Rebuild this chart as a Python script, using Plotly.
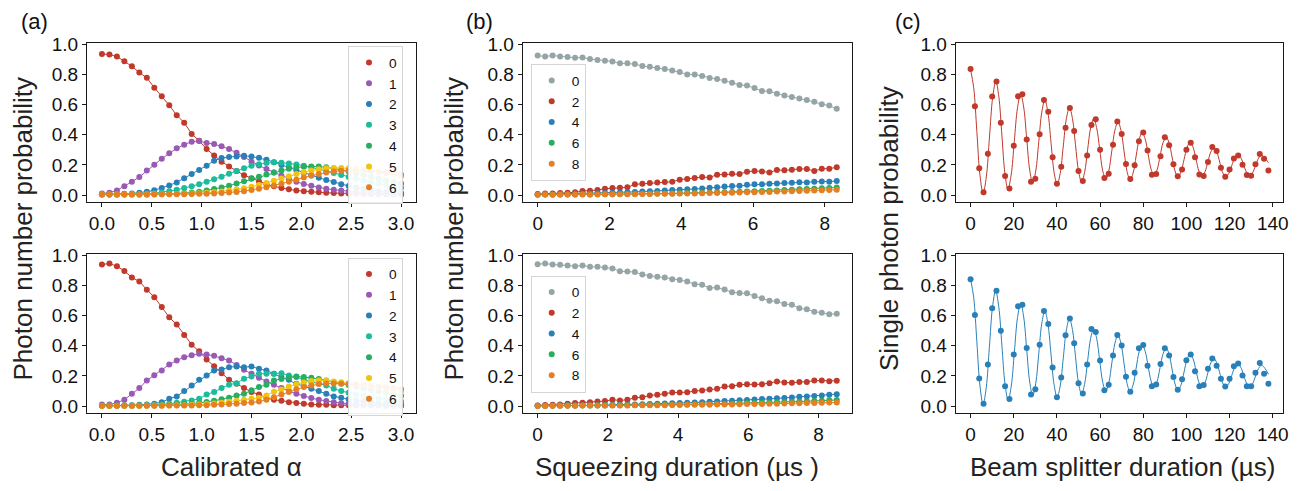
import plotly.graph_objects as go

# ---------------- data ----------------
alpha = [0.0, 0.075, 0.15, 0.225, 0.3, 0.375, 0.45, 0.525, 0.6, 0.675, 0.75, 0.825, 0.9, 0.975,
         1.05, 1.125, 1.2, 1.275, 1.35, 1.425, 1.5, 1.575, 1.65, 1.725, 1.8, 1.875, 1.95, 2.025,
         2.1, 2.175, 2.25, 2.325, 2.4, 2.475, 2.55, 2.625, 2.7, 2.775, 2.85, 2.925, 3.0]

a_top_0 = [0.935, 0.932, 0.918, 0.887, 0.854, 0.812, 0.777, 0.712, 0.655, 0.595, 0.529, 0.480, 0.405, 0.360,
           0.305, 0.263, 0.221, 0.190, 0.160, 0.132, 0.112, 0.090, 0.072, 0.058, 0.046, 0.038, 0.030, 0.025,
           0.022, 0.018, 0.015, 0.013, 0.011, 0.010, 0.008, 0.007, 0.006, 0.005, 0.004, 0.004, 0.003]
a_top_1 = [0.011, 0.016, 0.031, 0.058, 0.088, 0.119, 0.162, 0.201, 0.241, 0.277, 0.310, 0.334, 0.354, 0.358,
           0.345, 0.338, 0.324, 0.305, 0.280, 0.252, 0.220, 0.196, 0.172, 0.150, 0.128, 0.105, 0.088, 0.073,
           0.062, 0.050, 0.041, 0.035, 0.030, 0.024, 0.019, 0.015, 0.012, 0.009, 0.007, 0.005, 0.004]
a_top_2 = [0.005, 0.005, 0.006, 0.008, 0.011, 0.016, 0.022, 0.032, 0.046, 0.064, 0.084, 0.112, 0.140, 0.166,
           0.195, 0.228, 0.245, 0.252, 0.256, 0.260, 0.256, 0.247, 0.234, 0.218, 0.200, 0.182, 0.164, 0.146,
           0.130, 0.115, 0.100, 0.086, 0.072, 0.060, 0.050, 0.041, 0.033, 0.027, 0.021, 0.017, 0.013]
a_top_3 = [0.004, 0.004, 0.004, 0.005, 0.005, 0.006, 0.008, 0.012, 0.018, 0.026, 0.035, 0.046, 0.058, 0.072,
           0.088, 0.104, 0.122, 0.142, 0.160, 0.178, 0.195, 0.205, 0.212, 0.217, 0.215, 0.210, 0.203, 0.195,
           0.185, 0.174, 0.160, 0.147, 0.133, 0.120, 0.108, 0.096, 0.085, 0.075, 0.065, 0.056, 0.048]
a_top_4 = [0.003, 0.003, 0.003, 0.003, 0.003, 0.004, 0.004, 0.005, 0.006, 0.008, 0.010, 0.013, 0.017, 0.022,
           0.030, 0.040, 0.050, 0.062, 0.076, 0.092, 0.108, 0.122, 0.136, 0.150, 0.163, 0.174, 0.183, 0.188,
           0.190, 0.189, 0.184, 0.176, 0.166, 0.156, 0.145, 0.133, 0.121, 0.109, 0.097, 0.086, 0.076]
a_top_5 = [0.004, 0.004, 0.004, 0.004, 0.004, 0.004, 0.004, 0.005, 0.005, 0.006, 0.007, 0.008, 0.010, 0.012,
           0.015, 0.019, 0.024, 0.030, 0.037, 0.045, 0.055, 0.066, 0.080, 0.095, 0.110, 0.125, 0.140, 0.152,
           0.163, 0.171, 0.177, 0.180, 0.180, 0.178, 0.174, 0.168, 0.161, 0.153, 0.144, 0.135, 0.125]
a_top_6 = [0.004, 0.004, 0.004, 0.004, 0.004, 0.004, 0.004, 0.004, 0.005, 0.005, 0.005, 0.006, 0.007, 0.008,
           0.009, 0.011, 0.014, 0.017, 0.021, 0.026, 0.033, 0.042, 0.052, 0.063, 0.075, 0.088, 0.102, 0.116,
           0.129, 0.140, 0.150, 0.157, 0.161, 0.163, 0.163, 0.161, 0.158, 0.154, 0.149, 0.143, 0.137]

a_bot_0 = [0.938, 0.945, 0.927, 0.896, 0.852, 0.826, 0.771, 0.722, 0.656, 0.588, 0.540, 0.471, 0.407, 0.363,
           0.308, 0.264, 0.218, 0.174, 0.148, 0.119, 0.093, 0.077, 0.053, 0.042, 0.035, 0.026, 0.020, 0.015,
           0.011, 0.009, 0.008, 0.006, 0.006, 0.005, 0.004, 0.004, 0.003, 0.003, 0.002, 0.002, 0.002]
a_bot_1 = [0.010, 0.010, 0.022, 0.042, 0.081, 0.119, 0.170, 0.205, 0.236, 0.275, 0.302, 0.324, 0.337, 0.346,
           0.341, 0.333, 0.317, 0.302, 0.273, 0.240, 0.214, 0.187, 0.163, 0.141, 0.119, 0.099, 0.081, 0.066,
           0.053, 0.042, 0.033, 0.025, 0.019, 0.015, 0.012, 0.009, 0.007, 0.005, 0.004, 0.003, 0.003]
a_bot_2 = [0.003, 0.003, 0.004, 0.005, 0.006, 0.008, 0.010, 0.016, 0.026, 0.048, 0.064, 0.099, 0.137, 0.174,
           0.203, 0.236, 0.242, 0.258, 0.262, 0.258, 0.262, 0.247, 0.236, 0.214, 0.192, 0.174, 0.148, 0.132,
           0.115, 0.099, 0.081, 0.064, 0.055, 0.045, 0.037, 0.030, 0.024, 0.019, 0.015, 0.012, 0.009]
a_bot_3 = [0.002, 0.002, 0.002, 0.003, 0.003, 0.004, 0.005, 0.007, 0.010, 0.015, 0.022, 0.029, 0.037, 0.048,
           0.077, 0.093, 0.119, 0.141, 0.152, 0.181, 0.196, 0.214, 0.214, 0.214, 0.218, 0.203, 0.192, 0.174,
           0.159, 0.148, 0.137, 0.115, 0.099, 0.088, 0.077, 0.067, 0.058, 0.050, 0.043, 0.036, 0.030]
a_bot_4 = [0.002, 0.002, 0.002, 0.002, 0.002, 0.003, 0.003, 0.004, 0.005, 0.007, 0.009, 0.012, 0.016, 0.021,
           0.027, 0.035, 0.045, 0.055, 0.070, 0.081, 0.104, 0.126, 0.141, 0.170, 0.180, 0.190, 0.196, 0.192,
           0.187, 0.180, 0.170, 0.160, 0.150, 0.139, 0.128, 0.117, 0.106, 0.096, 0.086, 0.077, 0.069]
a_bot_5 = [0.002, 0.002, 0.002, 0.002, 0.002, 0.002, 0.003, 0.003, 0.003, 0.004, 0.005, 0.006, 0.008, 0.010,
           0.013, 0.017, 0.022, 0.028, 0.035, 0.042, 0.048, 0.055, 0.070, 0.095, 0.110, 0.130, 0.145, 0.157,
           0.166, 0.170, 0.168, 0.163, 0.158, 0.152, 0.146, 0.139, 0.132, 0.124, 0.116, 0.108, 0.100]
a_bot_6 = [0.002, 0.002, 0.002, 0.002, 0.002, 0.002, 0.002, 0.002, 0.002, 0.003, 0.003, 0.003, 0.004, 0.005,
           0.006, 0.008, 0.010, 0.013, 0.016, 0.020, 0.024, 0.030, 0.042, 0.059, 0.077, 0.093, 0.112, 0.126,
           0.137, 0.146, 0.150, 0.150, 0.148, 0.146, 0.143, 0.139, 0.135, 0.130, 0.125, 0.119, 0.113]

t_sq_top = [0.0, 0.208, 0.417, 0.625, 0.833, 1.042, 1.25, 1.458, 1.667, 1.875, 2.083, 2.292, 2.5, 2.708,
            2.917, 3.125, 3.333, 3.542, 3.75, 3.958, 4.167, 4.375, 4.583, 4.792, 5.0, 5.208, 5.417, 5.625,
            5.833, 6.042, 6.25, 6.458, 6.667, 6.875, 7.083, 7.292, 7.5, 7.708, 7.917, 8.125, 8.333]
b_top_0 = [0.925, 0.918, 0.925, 0.918, 0.915, 0.910, 0.912, 0.902, 0.896, 0.890, 0.886, 0.874, 0.873, 0.868,
           0.856, 0.850, 0.843, 0.835, 0.826, 0.815, 0.800, 0.799, 0.790, 0.776, 0.770, 0.758, 0.745, 0.730,
           0.727, 0.710, 0.690, 0.688, 0.672, 0.660, 0.650, 0.640, 0.630, 0.618, 0.602, 0.593, 0.572]
b_top_2 = [0.007, 0.011, 0.011, 0.013, 0.015, 0.018, 0.027, 0.029, 0.033, 0.042, 0.046, 0.049, 0.051, 0.071,
           0.075, 0.080, 0.084, 0.086, 0.088, 0.102, 0.106, 0.113, 0.119, 0.117, 0.135, 0.137, 0.142, 0.139,
           0.155, 0.159, 0.157, 0.150, 0.166, 0.164, 0.168, 0.173, 0.173, 0.159, 0.175, 0.175, 0.184]
b_top_4 = [0.004, 0.005, 0.005, 0.006, 0.007, 0.008, 0.009, 0.010, 0.012, 0.013, 0.015, 0.017, 0.019, 0.021,
           0.023, 0.025, 0.027, 0.030, 0.033, 0.036, 0.038, 0.040, 0.044, 0.048, 0.052, 0.056, 0.060, 0.062,
           0.068, 0.072, 0.071, 0.075, 0.077, 0.080, 0.082, 0.085, 0.084, 0.088, 0.090, 0.089, 0.094]
b_top_6 = [0.003, 0.003, 0.004, 0.003, 0.004, 0.004, 0.005, 0.004, 0.005, 0.006, 0.006, 0.007, 0.007, 0.008,
           0.008, 0.009, 0.010, 0.011, 0.011, 0.012, 0.014, 0.014, 0.016, 0.017, 0.018, 0.019, 0.021, 0.022,
           0.024, 0.026, 0.027, 0.029, 0.031, 0.033, 0.035, 0.038, 0.040, 0.042, 0.045, 0.046, 0.050]
b_top_8 = [0.002, 0.003, 0.002, 0.003, 0.003, 0.003, 0.004, 0.004, 0.004, 0.005, 0.005, 0.005, 0.006, 0.006,
           0.007, 0.007, 0.008, 0.008, 0.009, 0.010, 0.010, 0.011, 0.012, 0.013, 0.014, 0.014, 0.016, 0.017,
           0.018, 0.019, 0.020, 0.021, 0.023, 0.024, 0.025, 0.027, 0.029, 0.030, 0.032, 0.033, 0.035]

t_sq_bot = [0.0, 0.213, 0.426, 0.639, 0.852, 1.065, 1.278, 1.491, 1.704, 1.917, 2.13, 2.343, 2.556, 2.769,
            2.982, 3.195, 3.408, 3.621, 3.834, 4.047, 4.26, 4.473, 4.686, 4.899, 5.112, 5.325, 5.538, 5.751,
            5.964, 6.177, 6.39, 6.603, 6.816, 7.029, 7.242, 7.455, 7.668, 7.881, 8.094, 8.307, 8.52]
b_bot_0 = [0.940, 0.945, 0.938, 0.936, 0.932, 0.927, 0.932, 0.923, 0.923, 0.918, 0.912, 0.894, 0.892, 0.888,
           0.872, 0.863, 0.857, 0.852, 0.841, 0.835, 0.826, 0.808, 0.804, 0.782, 0.786, 0.773, 0.755, 0.749,
           0.747, 0.729, 0.714, 0.698, 0.694, 0.676, 0.672, 0.648, 0.641, 0.626, 0.619, 0.608, 0.612]
b_bot_2 = [0.004, 0.007, 0.009, 0.011, 0.015, 0.020, 0.022, 0.026, 0.031, 0.033, 0.042, 0.037, 0.042, 0.055,
           0.059, 0.070, 0.075, 0.081, 0.090, 0.090, 0.092, 0.099, 0.103, 0.110, 0.114, 0.130, 0.132, 0.141,
           0.145, 0.143, 0.145, 0.152, 0.163, 0.156, 0.154, 0.160, 0.160, 0.169, 0.169, 0.165, 0.167]
b_bot_4 = [0.002, 0.002, 0.003, 0.003, 0.004, 0.004, 0.005, 0.006, 0.006, 0.007, 0.008, 0.009, 0.010, 0.011,
           0.012, 0.014, 0.015, 0.017, 0.018, 0.020, 0.022, 0.024, 0.026, 0.028, 0.030, 0.033, 0.035, 0.038,
           0.040, 0.043, 0.046, 0.048, 0.051, 0.054, 0.057, 0.061, 0.064, 0.067, 0.070, 0.075, 0.079]
b_bot_6 = [0.002, 0.002, 0.002, 0.003, 0.003, 0.003, 0.003, 0.004, 0.004, 0.004, 0.005, 0.005, 0.006, 0.006,
           0.007, 0.007, 0.008, 0.009, 0.009, 0.010, 0.011, 0.012, 0.013, 0.014, 0.015, 0.016, 0.017, 0.018,
           0.020, 0.021, 0.022, 0.024, 0.025, 0.027, 0.029, 0.030, 0.032, 0.034, 0.036, 0.038, 0.040]
b_bot_8 = [0.001, 0.001, 0.002, 0.002, 0.002, 0.002, 0.003, 0.003, 0.003, 0.003, 0.004, 0.004, 0.004, 0.005,
           0.005, 0.005, 0.006, 0.006, 0.007, 0.007, 0.008, 0.008, 0.009, 0.009, 0.010, 0.011, 0.011, 0.012,
           0.013, 0.014, 0.014, 0.015, 0.016, 0.017, 0.018, 0.019, 0.020, 0.021, 0.022, 0.023, 0.024]

t_bs = [0, 2, 4, 6, 8, 10, 12, 14, 16, 18, 20, 22, 24, 26, 28, 30, 32, 34, 36, 38, 40, 42, 44, 46, 48,
        50, 52, 54, 56, 58, 60, 62, 64, 66, 68, 70, 72, 74, 76, 78, 80, 82, 84, 86, 88, 90, 92, 94, 96, 98,
        100, 102, 104, 106, 108, 110, 112, 114, 116, 118, 120, 122, 124, 126, 128, 130, 132, 134, 136, 138]
c_top = [0.836, 0.588, 0.177, 0.018, 0.274, 0.653, 0.752, 0.480, 0.126, 0.044, 0.327, 0.655, 0.668, 0.369,
         0.088, 0.108, 0.403, 0.630, 0.553, 0.250, 0.075, 0.188, 0.447, 0.577, 0.425, 0.159, 0.093, 0.263,
         0.465, 0.502, 0.301, 0.113, 0.142, 0.334, 0.487, 0.405, 0.206, 0.106, 0.197, 0.356, 0.414, 0.296,
         0.135, 0.139, 0.257, 0.383, 0.330, 0.204, 0.124, 0.170, 0.301, 0.347, 0.250, 0.137, 0.126, 0.219,
         0.319, 0.292, 0.181, 0.122, 0.170, 0.243, 0.263, 0.201, 0.133, 0.128, 0.204, 0.272, 0.241, 0.162]
c_bot = [0.841, 0.604, 0.183, 0.015, 0.275, 0.648, 0.764, 0.500, 0.132, 0.046, 0.341, 0.661, 0.672, 0.385,
         0.077, 0.112, 0.407, 0.630, 0.544, 0.256, 0.059, 0.189, 0.469, 0.581, 0.416, 0.152, 0.084, 0.275,
         0.511, 0.491, 0.302, 0.104, 0.141, 0.335, 0.471, 0.401, 0.194, 0.095, 0.220, 0.383, 0.405, 0.267,
         0.132, 0.143, 0.278, 0.383, 0.335, 0.192, 0.108, 0.178, 0.304, 0.341, 0.231, 0.132, 0.139, 0.247,
         0.315, 0.267, 0.181, 0.130, 0.181, 0.264, 0.282, 0.203, 0.132, 0.132, 0.220, 0.286, 0.214, 0.148]

# fitted curves (extrema and quarter points of each swing)
fit_t_top = [0, 1.45, 2.9, 4.35, 5.8, 7.28, 8.75, 10.23, 11.7, 13.1, 14.5, 15.9, 17.3, 18.78, 20.25, 21.73,
             23.2, 24.6, 26.0, 27.4, 28.8, 30.2, 31.6, 33.0, 34.4, 35.83, 37.25, 38.68, 40.1, 41.53, 42.95,
             44.38, 45.8, 47.2, 48.6, 50.0, 51.4, 52.8, 54.2, 55.6, 57.0, 58.4, 59.8, 61.2, 62.6, 64.03,
             65.45, 66.88, 68.3, 69.7, 71.1, 72.5, 73.9, 75.3, 76.7, 78.1, 79.5, 80.88, 82.25, 83.63, 85.0,
             86.4, 87.8, 89.2, 90.6, 91.98, 93.35, 94.73, 96.1, 97.5, 98.9, 100.3, 101.7, 103.08, 104.45,
             105.83, 107.2, 108.58, 109.95, 111.33, 112.7, 114.08, 115.45, 116.83, 118.2, 119.6, 121.0,
             122.4, 123.8, 125.18, 126.55, 127.93, 129.3, 130.68, 132.05, 133.43, 134.8, 136.4, 138.0]
fit_p_top = [0.83, 0.711, 0.421, 0.131, 0.012, 0.120, 0.384, 0.647, 0.755, 0.651, 0.398, 0.144, 0.04, 0.132,
             0.355, 0.578, 0.67, 0.584, 0.375, 0.166, 0.08, 0.160, 0.355, 0.550, 0.63, 0.548, 0.35, 0.152,
             0.07, 0.144, 0.325, 0.506, 0.58, 0.508, 0.334, 0.160, 0.088, 0.149, 0.297, 0.444, 0.505,
             0.447, 0.305, 0.163, 0.105, 0.160, 0.295, 0.430, 0.485, 0.429, 0.293, 0.156, 0.10, 0.146,
             0.258, 0.369, 0.415, 0.373, 0.273, 0.172, 0.13, 0.167, 0.258, 0.348, 0.385, 0.346, 0.253,
             0.159, 0.12, 0.154, 0.235, 0.316, 0.35, 0.317, 0.238, 0.158, 0.125, 0.153, 0.22, 0.287, 0.315,
             0.287, 0.218, 0.148, 0.12, 0.142, 0.195, 0.248, 0.27, 0.249, 0.199, 0.149, 0.128, 0.148, 0.197,
             0.245, 0.265, 0.245, 0.215]
fit_t_bot = [0, 1.45, 2.9, 4.35, 5.8, 7.25, 8.7, 10.15, 11.6, 13.05, 14.5, 15.95, 17.4, 18.85, 20.3, 21.75,
             23.2, 24.6, 26.0, 27.4, 28.8, 30.2, 31.6, 33.0, 34.4, 35.83, 37.25, 38.68, 40.1, 41.53, 42.95,
             44.38, 45.8, 47.2, 48.6, 50.0, 51.4, 52.8, 54.2, 55.6, 57.0, 58.4, 59.8, 61.2, 62.6, 64.03,
             65.45, 66.88, 68.3, 69.7, 71.1, 72.5, 73.9, 75.3, 76.7, 78.1, 79.5, 80.88, 82.25, 83.63, 85.0,
             86.4, 87.8, 89.2, 90.6, 91.98, 93.35, 94.73, 96.1, 97.5, 98.9, 100.3, 101.7, 103.08, 104.45,
             105.83, 107.2, 108.58, 109.95, 111.33, 112.7, 114.08, 115.45, 116.83, 118.2, 119.6, 121.0,
             122.4, 123.8, 125.18, 126.55, 127.93, 129.3, 130.68, 132.05, 133.43, 134.8, 136.4, 138.0]
fit_p_bot = [0.84, 0.719, 0.426, 0.133, 0.012, 0.122, 0.389, 0.655, 0.765, 0.659, 0.403, 0.146, 0.04, 0.133,
             0.36, 0.587, 0.68, 0.591, 0.375, 0.159, 0.07, 0.152, 0.35, 0.548, 0.63, 0.546, 0.344, 0.142,
             0.058, 0.134, 0.319, 0.504, 0.58, 0.507, 0.33, 0.153, 0.08, 0.143, 0.295, 0.447, 0.51, 0.45,
             0.305, 0.16, 0.10, 0.154, 0.285, 0.416, 0.47, 0.415, 0.283, 0.15, 0.095, 0.14, 0.25, 0.36,
             0.405, 0.364, 0.265, 0.166, 0.125, 0.163, 0.255, 0.347, 0.385, 0.344, 0.245, 0.146, 0.105,
             0.14, 0.225, 0.31, 0.345, 0.313, 0.235, 0.157, 0.125, 0.153, 0.22, 0.287, 0.315, 0.287, 0.22,
             0.153, 0.125, 0.148, 0.203, 0.257, 0.28, 0.258, 0.204, 0.15, 0.128, 0.149, 0.199, 0.249, 0.27,
             0.25, 0.21]

labels_a = ["0", "1", "2", "3", "4", "5", "6"]
labels_b = ["0", "2", "4", "6", "8"]
y_ticks = [0.0, 0.2, 0.4, 0.6, 0.8, 1.0]
x_ticks_a = [0.0, 0.5, 1.0, 1.5, 2.0, 2.5, 3.0]
x_ticks_b = [0, 2, 4, 6, 8]
x_ticks_c = [0, 20, 40, 60, 80, 100, 120, 140]

# ---------------- style ----------------
RED = "#c0392b"; PURPLE = "#9b59b6"; BLUE = "#2980b9"; TEAL = "#1abc9c"
GREEN = "#27ae60"; YELLOW = "#f1c40f"; ORANGE = "#e67e22"; GRAY = "#95a5a6"
colors_a = [RED, PURPLE, BLUE, TEAL, GREEN, YELLOW, ORANGE]
colors_b = [GRAY, RED, BLUE, GREEN, ORANGE]
FONT = "Liberation Sans, Arial, sans-serif"
MS = 6

fig = go.Figure()

def add_series(x, ys, labels, cols, xa, ya, legend):
    for y, lab, c in zip(ys, labels, cols):
        fig.add_trace(go.Scatter(x=x, y=y, mode="lines", line=dict(color=c, width=1),
                                 xaxis=xa, yaxis=ya, showlegend=False, hoverinfo="skip"))
        fig.add_trace(go.Scatter(x=x, y=y, mode="markers", marker=dict(color=c, size=MS),
                                 name=lab, xaxis=xa, yaxis=ya, legend=legend, showlegend=True))

add_series(alpha, [a_top_0, a_top_1, a_top_2, a_top_3, a_top_4, a_top_5, a_top_6],
           labels_a, colors_a, "x", "y", "legend")
add_series(alpha, [a_bot_0, a_bot_1, a_bot_2, a_bot_3, a_bot_4, a_bot_5, a_bot_6],
           labels_a, colors_a, "x2", "y2", "legend2")
add_series(t_sq_top, [b_top_0, b_top_2, b_top_4, b_top_6, b_top_8],
           labels_b, colors_b, "x3", "y3", "legend3")
add_series(t_sq_bot, [b_bot_0, b_bot_2, b_bot_4, b_bot_6, b_bot_8],
           labels_b, colors_b, "x4", "y4", "legend4")

for ft, fp, xs, ys, c, xa, ya in [(fit_t_top, fit_p_top, t_bs, c_top, RED, "x5", "y5"),
                                  (fit_t_bot, fit_p_bot, t_bs, c_bot, BLUE, "x6", "y6")]:
    fig.add_trace(go.Scatter(x=ft, y=fp, mode="lines", line=dict(color=c, width=1, shape="spline"),
                             xaxis=xa, yaxis=ya, showlegend=False, hoverinfo="skip"))
    fig.add_trace(go.Scatter(x=xs, y=ys, mode="markers", marker=dict(color=c, size=MS),
                             xaxis=xa, yaxis=ya, showlegend=False))

# the page body adds an 8 px offset; positions below are screen pixels of the reference
OFF = 8
W, H = 1312 - OFF, 491 - OFF
def px_x(p): return (p - OFF) / W
def px_y(p): return 1 - (p - OFF) / H

dom_x = {"a": [px_x(87), px_x(416)], "b": [px_x(522.7), px_x(851.7)], "c": [px_x(955.7), px_x(1283.3)]}
dom_y = {"top": [px_y(202.3), px_y(42.7)], "bot": [px_y(413.3), px_y(253.7)]}

axis_common = dict(showline=True, mirror=True, linecolor="#1a1a1a", linewidth=1.2,
                   ticks="outside", ticklen=4, tickwidth=1.2, tickcolor="#1a1a1a",
                   showgrid=False, zeroline=False, automargin=False,
                   tickfont=dict(family=FONT, size=19, color="#111"))

YR = [-0.048, 1.01]
layout_axes = {}
specs = [("", "a", "top", [-0.15, 3.15], x_ticks_a, ".1f"),
         ("2", "a", "bot", [-0.15, 3.15], x_ticks_a, ".1f"),
         ("3", "b", "top", [-0.417, 8.75], x_ticks_b, "d"),
         ("4", "b", "bot", [-0.426, 8.946], x_ticks_b, "d"),
         ("5", "c", "top", [-6.9, 144.9], x_ticks_c, "d"),
         ("6", "c", "bot", [-6.9, 144.9], x_ticks_c, "d")]
for suf, col, row, xr, xt, fmt in specs:
    layout_axes["xaxis" + suf] = dict(axis_common, domain=dom_x[col], anchor="y" + suf, range=xr,
                                      tickmode="array", tickvals=xt, tickformat=fmt)
    layout_axes["yaxis" + suf] = dict(axis_common, domain=dom_y[row], anchor="x" + suf, range=YR,
                                      tickmode="array", tickvals=y_ticks, tickformat=".1f")

legend_common = dict(xanchor="left", yanchor="top", bgcolor="rgba(255,255,255,0.92)",
                     bordercolor="#d5d5d5", borderwidth=1, itemwidth=30, tracegroupgap=0,
                     font=dict(family=FONT, size=13.7, color="#111"))

fig.update_layout(
    width=W, height=H, autosize=False,
    margin=dict(l=0, r=0, t=0, b=0, pad=0, autoexpand=False),
    paper_bgcolor="white", plot_bgcolor="white",
    font=dict(family=FONT, color="#111"),
    legend=dict(legend_common, x=px_x(348), y=px_y(46)),
    legend2=dict(legend_common, x=px_x(348), y=px_y(257.5)),
    legend3=dict(legend_common, x=px_x(530.7), y=px_y(64)),
    legend4=dict(legend_common, x=px_x(530.7), y=px_y(275.5)),
    **layout_axes,
)

ann = []
for txt, x in [("(a)", 35), ("(b)", 479), ("(c)", 908)]:
    ann.append(dict(text=txt, x=px_x(x), y=1, xref="paper", yref="paper",
                    showarrow=False, xanchor="center", yanchor="top", borderpad=0,
                    font=dict(family=FONT, size=22, color="#111")))
for txt, x, y in [("Photon number probability", 22, 228.5),
                  ("Photon number probability", 453, 228.5),
                  ("Single photon probability", 889, 229)]:
    ann.append(dict(text=txt, x=px_x(x), y=px_y(y), xref="paper", yref="paper", textangle=-90,
                    showarrow=False, xanchor="center", yanchor="middle",
                    font=dict(family=FONT, size=26, color="#222")))
for txt, x in [("Calibrated α", 231), ("Squeezing duration (µs )", 676.5),
               ("Beam splitter duration (µs)", 1122.5)]:
    ann.append(dict(text=txt, x=px_x(x), y=px_y(467), xref="paper", yref="paper",
                    showarrow=False, xanchor="center", yanchor="middle",
                    font=dict(family=FONT, size=26, color="#222")))
fig.update_layout(annotations=ann)

fig.write_html("out.html", config={"displayModeBar": False})
